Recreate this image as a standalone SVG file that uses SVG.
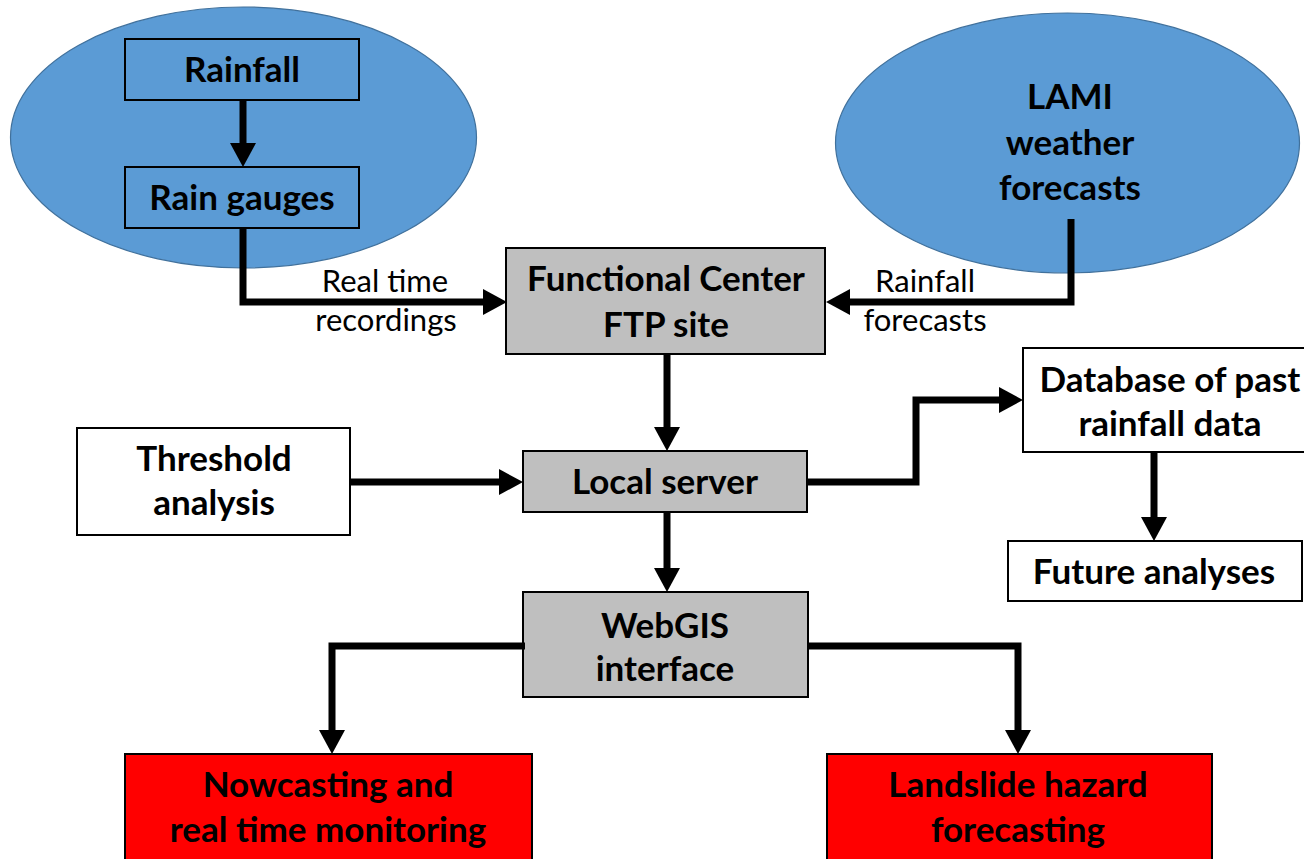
<svg xmlns="http://www.w3.org/2000/svg" width="1304" height="859" viewBox="0 0 1304 859">
<style>
.ell{fill:#5B9BD5;stroke:#41719C;stroke-width:1.2}
.bl{fill:#5B9BD5;stroke:#000;stroke-width:2}
.gr{fill:#BFBFBF;stroke:#000;stroke-width:2}
.wh{fill:#FFFFFF;stroke:#000;stroke-width:2}
.rd{fill:#FF0000;stroke:#000;stroke-width:2}
.t{font-family:Lato,"Open Sans","Liberation Sans",sans-serif;font-weight:bold;font-size:35px;fill:#000;text-anchor:middle}
.l{font-family:Lato,"Open Sans","Liberation Sans",sans-serif;font-size:31px;fill:#000;text-anchor:middle}
.c{fill:none;stroke:#000;stroke-width:7;marker-end:url(#ah)}
</style>
<defs>
<marker id="ah" markerUnits="userSpaceOnUse" markerWidth="24" markerHeight="26" refX="12" refY="13" orient="auto">
<path d="M0,0 L24,13 L0,26 z" fill="#000"/>
</marker>
</defs>
<rect width="1304" height="859" fill="#fff"/>
<g id="rain-ellipse"><ellipse class="ell" cx="243.5" cy="137.5" rx="233" ry="130.5"/></g>
<g id="lami"><ellipse class="ell" cx="1067.5" cy="143" rx="232" ry="130"/>
<text class="t" x="1070" y="109">LAMI</text><text class="t" x="1070" y="155">weather</text><text class="t" x="1070" y="200">forecasts</text></g>
<g id="rainfall"><rect class="bl" x="125" y="39" width="234" height="61"/><text class="t" x="242" y="82">Rainfall</text></g>
<g id="gauges"><rect class="bl" x="125" y="167" width="234" height="61"/><text class="t" x="242" y="210">Rain gauges</text></g>
<g id="fc"><rect class="gr" x="506" y="248" width="319" height="106"/><text class="t" x="666" y="291">Functional Center</text><text class="t" x="666" y="337">FTP site</text></g>
<g id="local"><rect class="gr" x="523" y="451" width="284" height="61"/><text class="t" x="665" y="494">Local server</text></g>
<g id="threshold"><rect class="wh" x="77" y="428" width="273" height="107"/><text class="t" x="214" y="471">Threshold</text><text class="t" x="214" y="515">analysis</text></g>
<g id="database"><rect class="wh" x="1023" y="348" width="290" height="104"/><text class="t" x="1170" y="392">Database of past</text><text class="t" x="1170" y="436">rainfall data</text></g>
<g id="future"><rect class="wh" x="1008" y="541" width="294" height="60"/><text class="t" x="1154" y="584">Future analyses</text></g>
<g id="webgis"><rect class="gr" x="523" y="592" width="285" height="105"/><text class="t" x="665" y="638">WebGIS</text><text class="t" x="665" y="681">interface</text></g>
<g id="nowcasting"><rect class="rd" x="125" y="754" width="407" height="120"/><text class="t" x="328" y="797">Nowcasting and</text><text class="t" x="328" y="842">real time monitoring</text></g>
<g id="landslide"><rect class="rd" x="827" y="754" width="385" height="120"/><text class="t" x="1018" y="797">Landslide hazard</text><text class="t" x="1018" y="842">forecasting</text></g>
<g id="connectors">
<path class="c" d="M243,100 V155"/>
<path class="c" d="M243,228 V302 H495"/>
<path class="c" d="M1071,219 V302 H838"/>
<path class="c" d="M667,354 V439"/>
<path class="c" d="M350,482 H511"/>
<path class="c" d="M807,482 H916 V400 H1011"/>
<path class="c" d="M667,512 V580"/>
<path class="c" d="M1154,452 V529"/>
<path class="c" d="M525,646 H332 V742"/>
<path class="c" d="M808,646 H1018 V742"/>
</g>
<g id="labels">
<text class="l" x="385" y="292">Real time</text><text class="l" x="386" y="331">recordings</text>
<text class="l" x="925" y="292">Rainfall</text><text class="l" x="925" y="331">forecasts</text>
</g>
</svg>
